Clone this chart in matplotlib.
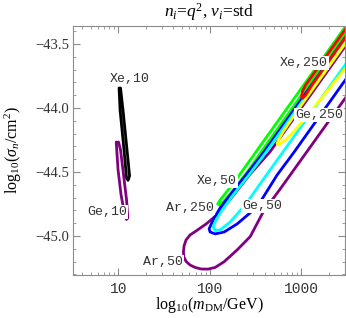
import matplotlib
matplotlib.use("Agg")
import matplotlib.pyplot as plt
import matplotlib.ticker as ticker
import numpy as np

plt.rcParams['font.family'] = 'Liberation Serif'
plt.rcParams['mathtext.fontset'] = 'custom'
plt.rcParams['mathtext.rm'] = 'Liberation Serif'
plt.rcParams['mathtext.it'] = 'Liberation Serif:italic'

# contours: log10(m/GeV) and log10(sigma/cm^2)
xe10_logm = [1.008, 1.019, 1.062, 1.090, 1.106, 1.123, 1.095, 1.051, 1.024]
xe10_logs = [-43.844, -44.016, -44.328, -44.547, -44.566, -44.531, -44.328, -44.016, -43.844]

ge10_logm = [0.977, 0.997, 1.030, 1.068, 1.090, 1.104, 1.090, 1.057, 1.024, 1.002]
ge10_logs = [-44.266, -44.484, -44.680, -44.828, -44.871, -44.859, -44.719, -44.523, -44.328, -44.266]

ar50_logm = [3.7, 2.658, 2.443, 2.245, 2.092, 1.961, 1.851, 1.785, 1.741, 1.719, 1.712, 1.717,
             1.741, 1.785, 1.840, 1.906, 1.982, 2.059, 2.158, 2.300, 2.443, 2.585, 2.771, 3.7]
ar50_logs = [-43.30, -44.344, -44.516, -44.695, -44.828, -44.906, -44.961, -44.992, -45.031, -45.078, -45.125, -45.164,
             -45.199, -45.227, -45.246, -45.258, -45.259, -45.246, -45.201, -45.109, -45.005, -44.8125, -44.633, -43.707]

ar250_logm = [3.7, 2.593, 2.388, 2.223, 2.114, 2.037, 1.993, 2.004, 2.059, 2.158, 2.300, 2.519, 2.738, 2.924, 3.7]
ar250_logs = [-43.233, -44.344, -44.531, -44.680, -44.781, -44.875, -44.945, -44.969, -44.984, -44.969,
              -44.906, -44.773, -44.523, -44.344, -43.564]

ge50_logm = [3.7, 2.618, 2.421, 2.256, 2.136, 2.070, 2.037, 2.059, 2.114, 2.223, 2.388, 2.574, 2.801, 3.7]
ge50_logs = [-43.258, -44.344, -44.531, -44.680, -44.797, -44.875, -44.930, -44.957, -44.953, -44.891,
             -44.758, -44.570, -44.344, -43.445]

xe50_logm = [3.7, 2.508, 2.333, 2.202, 2.114, 2.087, 2.108, 2.158, 2.278, 2.443, 2.563, 3.7]
xe50_logs = [-43.15, -44.341, -44.516, -44.641, -44.719, -44.75, -44.758, -44.727, -44.625, -44.469, -44.344, -43.20]

ge250_logm = [3.7, 3.0, 2.80, 2.75, 2.738, 2.75, 2.82, 2.90, 3.0, 3.7]
ge250_logs = [-43.28, -43.98, -44.19, -44.255, -44.278, -44.29, -44.255, -44.20, -44.12, -43.50]

xe250_logm = [3.7, 3.05, 3.015, 3.005, 3.015, 3.05, 3.1, 3.7]
xe250_logs = [-43.17, -43.82, -43.87, -43.91, -43.925, -43.90, -43.84, -43.23]

contours = [
    (ar50_logm, ar50_logs, '#800080'),
    (ge10_logm, ge10_logs, '#800080'),
    (xe10_logm, xe10_logs, 'black'),
    (xe50_logm, xe50_logs, '#00ff00'),
    (ar250_logm, ar250_logs, '#0000ff'),
    (ge50_logm, ge50_logs, '#00ffff'),
    (ge250_logm, ge250_logs, '#ffff00'),
    (xe250_logm, xe250_logs, '#ff0000'),
]

label_text = ['Xe,10', 'Ge,10', 'Ar,50', 'Ar,250', 'Xe,50', 'Ge,50', 'Ge,250', 'Xe,250']
label_m = [13.4, 7.52, 30.9, 61.0, 120.5, 375, 1578, 1081]
label_logs = [-43.773, -44.8125, -45.203, -44.781, -44.570, -44.766, -44.055, -43.648]

xtick_vals = [10, 100, 1000]
xtick_labels = ['10', '100', '1000']
ytick_vals = [-43.5, -44.0, -44.5, -45.0]
ytick_labels = ['\u221243.5', '\u221244.0', '\u221244.5', '\u221245.0']

fig = plt.figure(figsize=(3.46, 3.18), dpi=100)
ax = fig.add_axes([73/346, 1-275/318, 272/346, 249/318])

for lm, ls, col in contours:
    ax.plot(10**np.array(lm), ls, color=col, lw=2.0, solid_joinstyle='round', solid_capstyle='round')

for t, m, s in zip(label_text, label_m, label_logs):
    ax.text(m, s, t, family='Liberation Mono', fontsize=9.5, color='#333333',
            ha='center', va='center',
            bbox=dict(facecolor='white', edgecolor='none', pad=0.6))

ax.set_xscale('log')
ax.set_xlim(10**0.504, 10**3.48)
ax.set_ylim(-45.305, -43.36)

ax.xaxis.set_major_locator(ticker.FixedLocator(xtick_vals))
ax.xaxis.set_major_formatter(ticker.FixedFormatter(xtick_labels))
ax.xaxis.set_minor_locator(ticker.LogLocator(base=10, subs=np.arange(2, 10)))
ax.xaxis.set_minor_formatter(ticker.NullFormatter())
ax.yaxis.set_major_locator(ticker.FixedLocator(ytick_vals))
ax.yaxis.set_major_formatter(ticker.FixedFormatter(ytick_labels))
ax.yaxis.set_minor_locator(ticker.MultipleLocator(0.1))

ax.tick_params(which='both', direction='in', top=True, right=True, color='0.55')
ax.tick_params(which='major', length=5, width=0.8)
ax.tick_params(which='minor', length=2.5, width=0.6)
ax.tick_params(axis='x', pad=5, labelsize=10.5, labelcolor='#333333')
ax.tick_params(axis='y', pad=3, labelsize=10.5, labelcolor='#333333')
for lab in ax.get_xticklabels():
    lab.set_family('Liberation Mono')
for sp in ax.spines.values():
    sp.set_color('0.55')
    sp.set_linewidth(0.8)

fig.text(209/346, 1-12/318, r'$n_i$=$q^2$, $\nu_i$=std', ha='center', va='center', fontsize=12.5)
fig.text(209/346, 1-305/318, r'log$_{10}$($m_{\rm DM}$/GeV)', ha='center', va='center', fontsize=11.5)
fig.text(13/346, 1-150/318, r'log$_{10}$($\sigma_n$/cm$^2$)', ha='center', va='center', fontsize=11.5,
         rotation=90)

fig.savefig('out.png', dpi=100)
